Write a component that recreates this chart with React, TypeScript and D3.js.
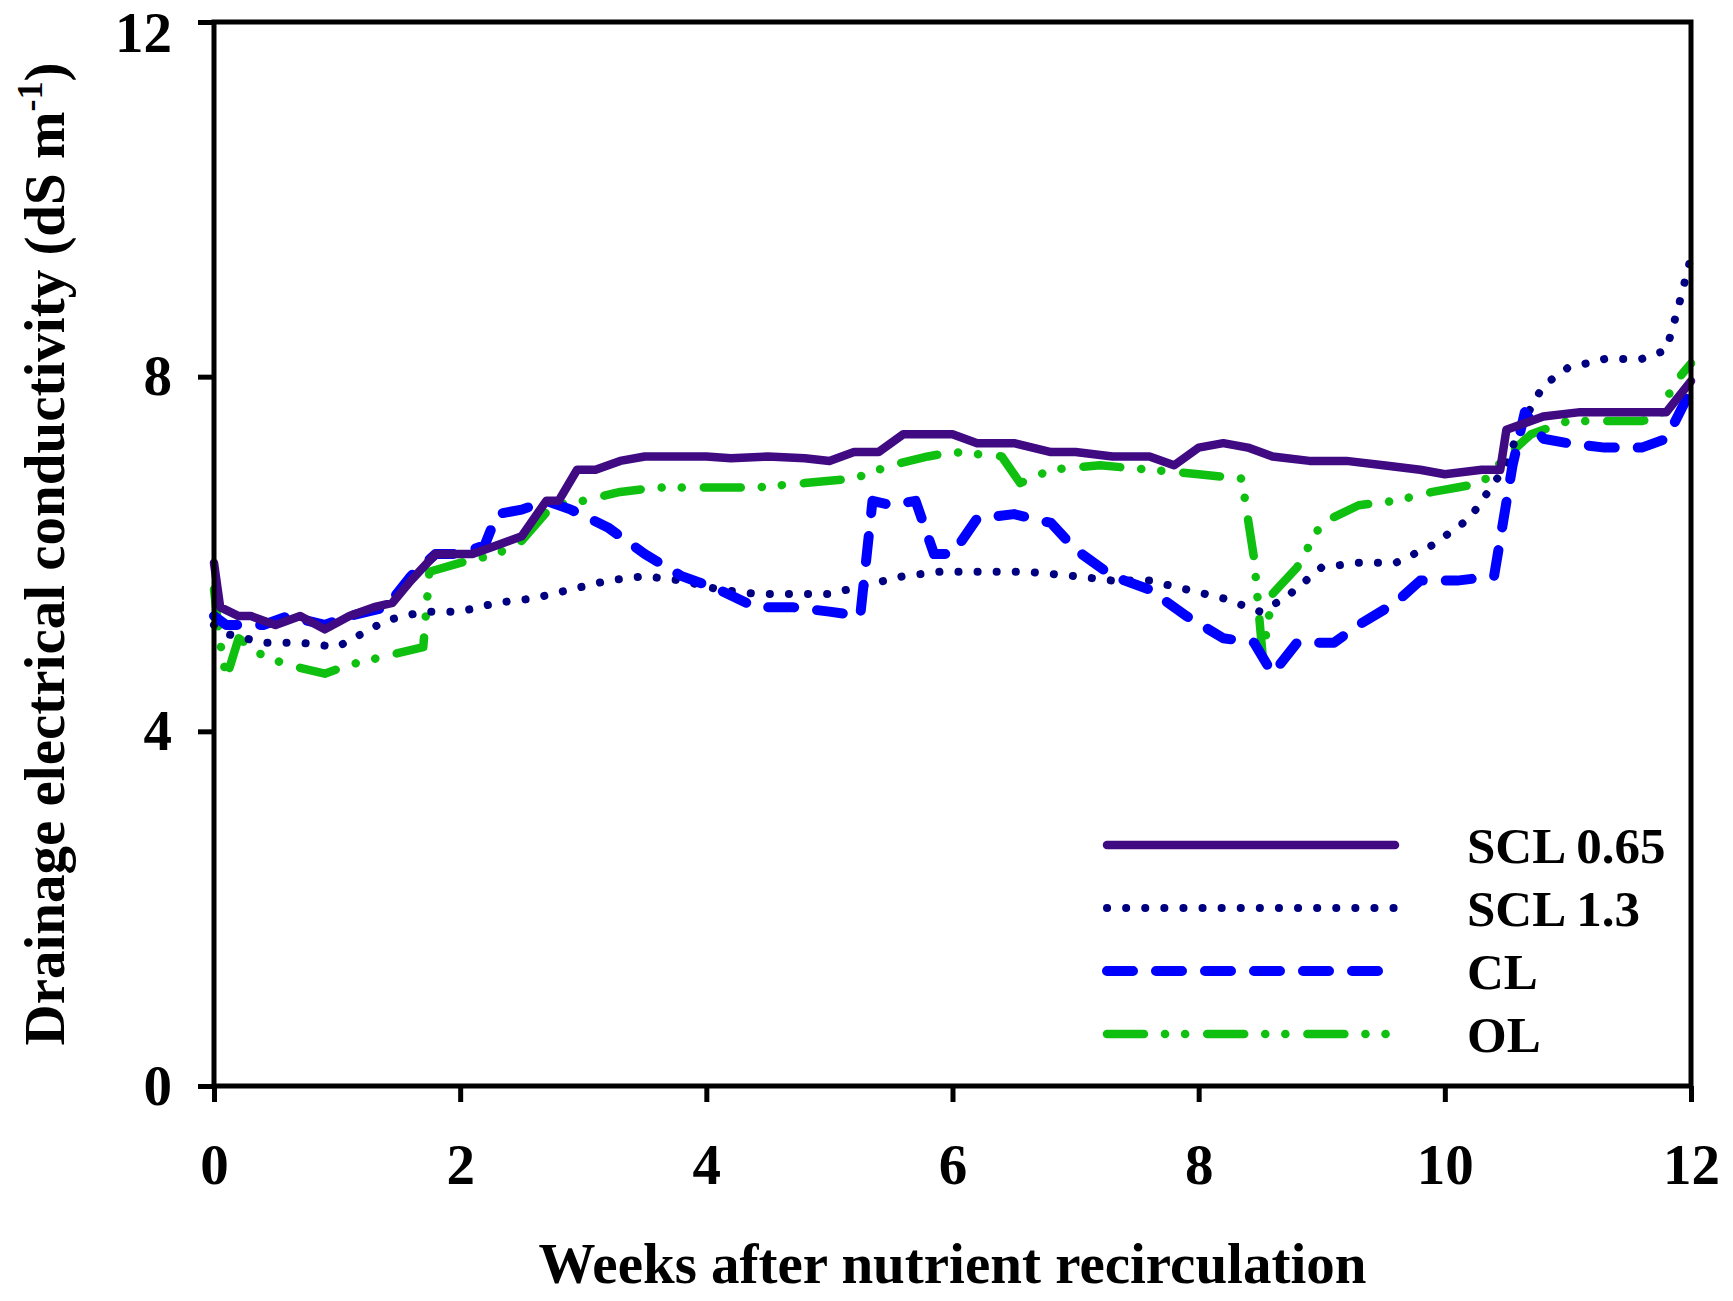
import { useEffect, useRef } from "react";
import * as d3 from "d3";

// weeks / EC values
const scl065Weeks = [0, 0.05, 0.2, 0.3, 0.5, 0.7, 0.9, 1.1, 1.3, 1.45, 1.6, 1.8, 2.1, 2.3, 2.5, 2.7, 2.8, 2.95, 3.1, 3.3, 3.5, 3.8, 4.0, 4.2, 4.5, 4.8, 5.0, 5.2, 5.4, 5.6, 6.0, 6.2, 6.5, 6.8, 7.0, 7.3, 7.6, 7.8, 8.0, 8.2, 8.4, 8.6, 8.9, 9.2, 9.5, 9.8, 10.0, 10.3, 10.45, 10.5, 10.8, 11.1, 11.5, 11.8, 12.0];
const scl065Values = [5.9, 5.4, 5.3, 5.3, 5.2, 5.3, 5.15, 5.3, 5.4, 5.45, 5.7, 6.0, 6.0, 6.1, 6.2, 6.6, 6.6, 6.95, 6.95, 7.05, 7.1, 7.1, 7.1, 7.08, 7.1, 7.08, 7.05, 7.15, 7.15, 7.35, 7.35, 7.25, 7.25, 7.15, 7.15, 7.1, 7.1, 7.0, 7.2, 7.25, 7.2, 7.1, 7.05, 7.05, 7.0, 6.95, 6.9, 6.95, 6.95, 7.4, 7.55, 7.6, 7.6, 7.6, 7.95];

const scl13Weeks = [0, 0.1, 0.4, 0.7, 1.0, 1.2, 1.4, 1.7, 2.0, 2.3, 2.6, 2.9, 3.2, 3.5, 3.8, 4.1, 4.4, 4.8, 5.0, 5.3, 5.6, 5.9, 6.3, 6.6, 7.0, 7.3, 7.6, 7.9, 8.2, 8.5, 8.7, 9.0, 9.3, 9.6, 9.9, 10.2, 10.5, 10.6, 10.8, 11.0, 11.3, 11.6, 11.8, 11.9, 12.0];
const scl13Values = [5.2, 5.1, 5.0, 5.0, 4.95, 5.1, 5.25, 5.35, 5.35, 5.45, 5.5, 5.6, 5.7, 5.75, 5.7, 5.6, 5.55, 5.55, 5.55, 5.65, 5.75, 5.8, 5.8, 5.8, 5.75, 5.7, 5.7, 5.6, 5.5, 5.35, 5.5, 5.85, 5.9, 5.9, 6.1, 6.4, 7.0, 7.4, 7.9, 8.1, 8.2, 8.2, 8.3, 8.8, 9.35];

const clWeeks = [0, 0.1, 0.4, 0.6, 0.9, 1.1, 1.4, 1.6, 1.8, 2.0, 2.2, 2.3, 2.5, 2.7, 2.9, 3.2, 3.5, 3.8, 4.1, 4.4, 4.7, 5.0, 5.25, 5.35, 5.5, 5.7, 5.85, 6.0, 6.2, 6.5, 6.8, 7.0, 7.3, 7.6, 7.9, 8.2, 8.45, 8.6, 8.8, 9.1, 9.3, 9.6, 9.8, 10.1, 10.4, 10.55, 10.65, 10.8, 11.0, 11.3, 11.6, 11.8, 12.0];
const clValues = [5.3, 5.2, 5.2, 5.3, 5.2, 5.3, 5.4, 5.75, 6.0, 6.0, 6.1, 6.45, 6.5, 6.6, 6.5, 6.3, 6.0, 5.75, 5.6, 5.4, 5.4, 5.35, 5.3, 6.6, 6.55, 6.6, 6.0, 6.0, 6.4, 6.45, 6.35, 6.05, 5.75, 5.6, 5.3, 5.05, 5.0, 4.65, 5.0, 5.0, 5.2, 5.45, 5.7, 5.7, 5.75, 7.0, 7.6, 7.3, 7.25, 7.2, 7.2, 7.3, 7.85];

const olWeeks = [0, 0.05, 0.1, 0.2, 0.4, 0.6, 0.9, 1.1, 1.4, 1.7, 1.75, 2.0, 2.3, 2.5, 2.75, 3.0, 3.3, 3.6, 4.0, 4.4, 4.8, 5.2, 5.5, 5.8, 6.0, 6.4, 6.55, 6.8, 7.2, 7.6, 8.0, 8.35, 8.45, 8.52, 8.6, 8.8, 9.0, 9.3, 9.6, 9.9, 10.1, 10.3, 10.5, 10.7, 11.0, 11.3, 11.6, 11.75, 11.85, 12.0];
const olValues = [5.6, 5.0, 4.6, 5.05, 4.85, 4.75, 4.65, 4.75, 4.85, 4.95, 5.8, 5.9, 6.0, 6.15, 6.55, 6.6, 6.7, 6.75, 6.75, 6.75, 6.8, 6.85, 7.0, 7.1, 7.15, 7.1, 6.8, 6.95, 7.0, 6.95, 6.9, 6.85, 5.95, 4.85, 5.55, 5.85, 6.35, 6.55, 6.6, 6.7, 6.75, 6.8, 7.1, 7.35, 7.5, 7.5, 7.5, 7.55, 7.9, 8.15];

const seriesNames = ["SCL 0.65", "SCL 1.3", "CL", "OL"];
const xTicks = [0, 2, 4, 6, 8, 10, 12];
const yTicks = [0, 4, 8, 12];

const styles = [
  { color: "#3f0a82", width: 8.5, dash: null },
  { color: "#000080", width: 8, dash: "0.1 19" },
  { color: "#0000ff", width: 10, dash: "26 23" },
  { color: "#10c010", width: 8.5, dash: "37 21 0.1 20 0.1 22" },
];

const App: React.FC = () => {
  const ref = useRef<SVGSVGElement>(null);

  useEffect(() => {
    const width = 1733;
    const height = 1301;
    const m = { left: 214, right: 1691, top: 22, bottom: 1086 };
    const font = "'Liberation Serif', 'Times New Roman', serif";

    const svg = d3.select(ref.current).attr("width", width).attr("height", height);
    svg.selectAll("*").remove();

    const x = d3.scaleLinear().domain([0, 12]).range([m.left, m.right]);
    const y = d3.scaleLinear().domain([0, 12]).range([m.bottom, m.top]);

    const series = [
      { w: scl065Weeks, v: scl065Values },
      { w: scl13Weeks, v: scl13Values },
      { w: clWeeks, v: clValues },
      { w: olWeeks, v: olValues },
    ];

    const line = d3.line<[number, number]>()
      .x(d => x(d[0]))
      .y(d => y(d[1]));

    // data lines, solid purple on top
    const order = [3, 1, 2, 0];
    order.forEach(i => {
      const s = series[i];
      const pts = s.w.map((w, j) => [w, s.v[j]] as [number, number]);
      svg.append("path")
        .datum(pts)
        .attr("fill", "none")
        .attr("stroke", styles[i].color)
        .attr("stroke-width", styles[i].width)
        .attr("stroke-linecap", "round")
        .attr("stroke-linejoin", "round")
        .attr("stroke-dasharray", styles[i].dash)
        .attr("d", line);
    });

    // frame
    svg.append("rect")
      .attr("x", m.left)
      .attr("y", m.top)
      .attr("width", m.right - m.left)
      .attr("height", m.bottom - m.top)
      .attr("fill", "none")
      .attr("stroke", "#000")
      .attr("stroke-width", 5);

    // x axis
    const xAxis = svg.append("g")
      .attr("transform", `translate(0,${m.bottom})`)
      .call(d3.axisBottom(x).tickValues(xTicks).tickSize(16).tickPadding(42).tickFormat(d3.format("d")));
    xAxis.select(".domain").remove();
    xAxis.selectAll("line").attr("stroke", "#000").attr("stroke-width", 5);
    xAxis.selectAll("text")
      .attr("font-family", font)
      .attr("font-weight", "bold")
      .attr("font-size", 57)
      .attr("fill", "#000");

    // y axis
    const yAxis = svg.append("g")
      .attr("transform", `translate(${m.left},0)`)
      .call(d3.axisLeft(y).tickValues(yTicks).tickSize(16).tickPadding(26).tickFormat(d3.format("d")));
    yAxis.select(".domain").remove();
    yAxis.selectAll("line").attr("stroke", "#000").attr("stroke-width", 5);
    yAxis.selectAll("text")
      .attr("font-family", font)
      .attr("font-weight", "bold")
      .attr("font-size", 57)
      .attr("fill", "#000");
    // keep the top label inside the picture
    yAxis.selectAll<SVGTextElement, number>("text")
      .filter(d => d === 12)
      .attr("dy", "0.52em");

    // axis titles
    svg.append("text")
      .attr("x", (m.left + m.right) / 2)
      .attr("y", 1283)
      .attr("text-anchor", "middle")
      .attr("font-family", font)
      .attr("font-weight", "bold")
      .attr("font-size", 57)
      .text("Weeks after nutrient recirculation");

    const yt = svg.append("text")
      .attr("transform", `translate(64,${(m.top + m.bottom) / 2}) rotate(-90)`)
      .attr("text-anchor", "middle")
      .attr("font-family", font)
      .attr("font-weight", "bold")
      .attr("font-size", 57);
    yt.append("tspan").text("Drainage electrical conductivity (dS m");
    yt.append("tspan").attr("font-size", 36).attr("dy", -22).text("-1");
    yt.append("tspan").attr("dy", 22).text(")");

    // legend
    const legendY = [845, 908, 971, 1034];
    seriesNames.forEach((name, i) => {
      svg.append("line")
        .attr("x1", 1107)
        .attr("x2", 1395)
        .attr("y1", legendY[i])
        .attr("y2", legendY[i])
        .attr("stroke", styles[i].color)
        .attr("stroke-width", styles[i].width)
        .attr("stroke-linecap", "round")
        .attr("stroke-dasharray", styles[i].dash);
      svg.append("text")
        .attr("x", 1467)
        .attr("y", legendY[i] + 18)
        .attr("font-family", font)
        .attr("font-weight", "bold")
        .attr("font-size", 51)
        .text(name);
    });
  }, []);

  return (
    <>
      <style>{`body{margin:0}`}</style>
      <svg ref={ref} style={{ display: "block", background: "#fff" }} />
    </>
  );
};

export default App;
